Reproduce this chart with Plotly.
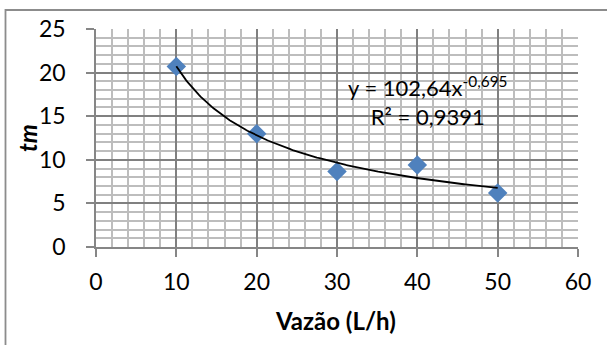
import numpy as np
import plotly.graph_objects as go

# Data
vazao = [10, 20, 30, 40, 50]
tm = [20.7, 13.0, 8.65, 9.4, 6.2]

# Power trendline coefficients shown on the chart
coef_a = 102.64
coef_b = -0.695
eq_text = "y = 102,64x<sup>-0,695</sup><br>R² = 0,9391"

x_title = "<b>Vazão (L/h)</b>"
y_title = "<b><i>tm</i></b>"

W, H = 607, 345
ML, MR, MT, MB = 96, 29, 29, 98
FONT = "Lato, 'Open Sans', sans-serif"

xfit = np.linspace(min(vazao), max(vazao), 200)
yfit = coef_a * xfit ** coef_b

fig = go.Figure()
fig.add_trace(go.Scatter(
    x=vazao, y=tm, mode="markers",
    marker=dict(symbol="diamond", size=15, color="#4F81BD",
                line=dict(width=0)),
    showlegend=False, hoverinfo="skip"))
fig.add_trace(go.Scatter(
    x=xfit, y=yfit, mode="lines",
    line=dict(color="black", width=1.8),
    showlegend=False, hoverinfo="skip"))

axis_common = dict(
    showline=True, linecolor="#868686", linewidth=1.5,
    showgrid=True, gridcolor="#808080", gridwidth=1.5,
    ticks="outside", ticklen=8, tickcolor="#868686", tickwidth=1.5,
    zeroline=False, automargin=False,
    tickfont=dict(family=FONT, size=23, color="black"),
)

fig.update_xaxes(
    range=[0, 60], dtick=10, tick0=0,
    minor=dict(dtick=2, showgrid=True, gridcolor="#BDBDBD", gridwidth=1.5),
    ticklabelstandoff=6,
    **axis_common)
fig.update_yaxes(
    range=[0, 25], dtick=5, tick0=0,
    minor=dict(dtick=1, showgrid=True, gridcolor="#BDBDBD", gridwidth=1.5),
    ticklabelstandoff=16,
    **axis_common)

pw = W - ML - MR
ph = H - MT - MB

def px_x(p):
    return (p - ML) / pw

def px_y(p):
    return 1 - (p - MT) / ph

fig.add_shape(type="rect", xref="paper", yref="paper",
              x0=px_x(5.5), x1=px_x(612), y0=px_y(10), y1=px_y(352),
              line=dict(color="#8C8C8C", width=1.8), fillcolor="rgba(0,0,0,0)",
              layer="below")

fig.add_annotation(
    x=px_x(335), y=px_y(320), xref="paper", yref="paper", text=x_title,
    xanchor="center", yanchor="middle",
    showarrow=False, font=dict(family=FONT, size=24, color="black"))
fig.add_annotation(
    x=px_x(27), y=px_y(138), xref="paper", yref="paper", text=y_title,
    xanchor="center", yanchor="middle",
    showarrow=False, textangle=-90, font=dict(family=FONT, size=24, color="black"))

fig.add_annotation(
    x=px_x(427.5), y=px_y(101), xref="paper", yref="paper", text=eq_text,
    xanchor="center", yanchor="middle",
    showarrow=False, align="center",
    font=dict(family=FONT, size=22, color="black"))

fig.update_layout(
    width=W, height=H,
    margin=dict(l=ML, r=MR, t=MT, b=MB),
    paper_bgcolor="white", plot_bgcolor="white",
    font=dict(family=FONT, color="black"),
)

fig.write_html(
    "out.html",
    config={"displayModeBar": False},
    post_script="document.body.style.margin='0';document.body.style.overflow='hidden';")
